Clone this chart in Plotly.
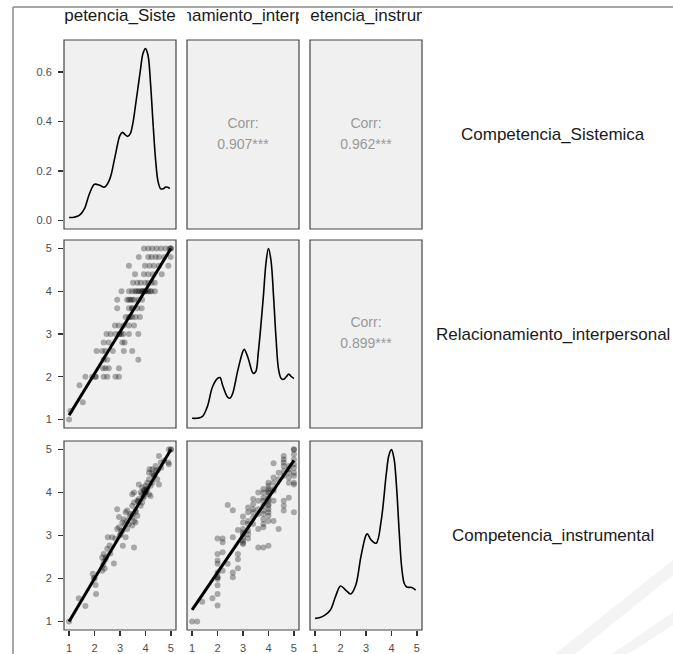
import plotly.graph_objects as go

W, H = 673, 654

var_names = ["Competencia_Sistemica", "Relacionamiento_interpersonal", "Competencia_instrumental"]
corr_values = ["0.907***", "0.962***", "0.899***"]
corr_title = "Corr:"
x_ticks = [1, 2, 3, 4, 5]
dens_ticks = [0.0, 0.2, 0.4, 0.6]
dens_ticktext = ["0.0", "0.2", "0.4", "0.6"]

# ---- diagonal densities ----
sis_dens_x = [1.0, 1.2, 1.4, 1.6, 1.8, 2.0, 2.2, 2.4, 2.6, 2.8, 3.0, 3.1, 3.2, 3.3, 3.4, 3.5, 3.6, 3.8, 3.9, 4.0,
              4.1, 4.2, 4.3, 4.4, 4.5, 4.6, 4.7, 4.8, 4.9, 4.95]
sis_dens_y = [0.012, 0.013, 0.02, 0.047, 0.108, 0.146, 0.142, 0.135, 0.168, 0.256, 0.344, 0.356, 0.347, 0.34, 0.35,
              0.39, 0.458, 0.607, 0.674, 0.695, 0.668, 0.553, 0.39, 0.243, 0.155, 0.128, 0.128, 0.135, 0.133, 0.128]

rel_dens_x = [1.0, 1.2, 1.4, 1.6, 1.8, 2.0, 2.1, 2.2, 2.4, 2.5, 2.6, 2.8, 3.0, 3.05, 3.2, 3.4, 3.5, 3.6, 3.8, 3.9,
              4.0, 4.1, 4.2, 4.3, 4.4, 4.5, 4.6, 4.7, 4.8, 4.9, 5.0]
rel_dens_y = [0.007, 0.007, 0.016, 0.075, 0.19, 0.24, 0.245, 0.2, 0.13, 0.125, 0.155, 0.29, 0.40, 0.41, 0.36, 0.27,
              0.28, 0.39, 0.72, 0.91, 1.0, 0.93, 0.72, 0.47, 0.29, 0.24, 0.235, 0.25, 0.265, 0.25, 0.24]

ins_dens_x = [1.0, 1.2, 1.4, 1.6, 1.8, 2.0, 2.2, 2.4, 2.6, 2.8, 3.0, 3.05, 3.2, 3.4, 3.6, 3.8, 3.9, 4.0, 4.1, 4.2,
              4.3, 4.4, 4.5, 4.6, 4.8, 4.95]
ins_dens_y = [0.014, 0.018, 0.030, 0.053, 0.115, 0.165, 0.146, 0.128, 0.170, 0.302, 0.402, 0.408, 0.379, 0.364,
              0.472, 0.690, 0.774, 0.800, 0.759, 0.627, 0.426, 0.254, 0.178, 0.160, 0.158, 0.146]

# ---- scatter: Competencia_Sistemica (x) vs Relacionamiento_interpersonal (y) ----
sr_x = [3.94, 4.11, 4.27, 4.44, 4.61, 4.79, 4.95, 5.0, 5.0,
        3.74, 4.11, 4.24, 4.40, 4.53, 4.73, 4.99,
        3.35, 3.98, 4.16, 4.33, 4.53, 4.90,
        3.59, 3.94, 4.11, 4.29, 4.64,
        3.51, 3.68, 3.81, 3.98, 4.11, 4.24, 4.37,
        3.06, 3.35, 3.48, 3.59, 3.72, 3.85, 3.98, 4.11, 4.24, 4.37, 3.65, 3.78, 3.92, 4.05, 4.18, 3.88, 4.0,
        2.89, 3.28, 3.41, 3.55, 3.72, 3.87, 3.35, 3.48,
        2.89, 3.35, 3.48, 3.68, 3.85, 3.48,
        3.22, 3.35, 3.48, 3.61, 3.78, 3.41,
        2.80, 2.96, 3.15, 3.35, 3.55,
        2.47, 2.63, 2.82, 2.98, 3.13, 3.35, 3.72, 2.98, 3.05,
        2.36, 2.56, 3.09, 3.18,
        2.08, 2.30, 2.43, 2.72, 3.15, 3.48,
        2.36, 2.50, 3.72,
        2.33, 2.43, 2.56, 2.96,
        1.64, 1.91, 2.04, 2.36, 2.50, 2.82, 2.96, 2.04,
        1.41, 1.54, 1.05, 1.0]
sr_y = [5.0] * 9 + [4.8] * 7 + [4.6] * 6 + [4.4] * 5 + [4.2] * 7 + [4.0] * 17 + [3.8] * 8 + [3.6] * 6 + \
       [3.4] * 6 + [3.2] * 5 + [3.0] * 9 + [2.8] * 4 + [2.6] * 6 + [2.4] * 3 + [2.2] * 4 + [2.0] * 8 + \
       [1.8, 1.4, 1.2, 1.0]

# ---- scatter: Competencia_Sistemica (x) vs Competencia_instrumental (y) ----
si_x = [1.00, 1.38, 1.64, 1.97, 2.04, 2.06, 1.93, 2.30, 2.33, 2.36, 2.30, 2.36, 2.43, 2.40, 2.76, 2.50, 2.52, 2.69,
        2.59, 2.82, 2.89, 2.89, 2.96, 3.02, 3.09, 3.11, 3.22, 3.28, 3.28, 3.35, 3.48, 3.55, 3.22, 3.41, 3.48, 3.55,
        3.61, 3.28, 3.48, 3.55, 3.61, 3.68, 3.68, 3.74, 3.81, 3.87, 3.74, 3.48, 3.55, 3.87, 3.94, 4.00, 4.07, 4.14,
        4.20, 3.94, 3.81, 4.00, 4.07, 4.20, 4.27, 4.14, 4.14, 4.27, 4.33, 4.40, 4.46, 4.53, 4.40, 4.60, 4.53, 4.73,
        4.92, 5.00, 4.90, 4.92, 4.27, 4.16, 3.87, 3.15, 3.09, 2.96, 2.0, 3.0, 4.0, 4.0, 5.0, 3.5, 3.62, 3.92, 4.05,
        2.45, 2.62, 3.05, 3.18, 3.38, 4.35, 4.48, 4.62, 3.72, 3.95]
si_y = [1.00, 1.54, 1.36, 2.01, 1.85, 1.64, 2.11, 2.18, 2.30, 2.39, 2.49, 2.57, 2.45, 2.23, 2.35, 2.69, 2.96, 2.96,
        2.77, 2.93, 3.61, 3.15, 3.19, 3.03, 3.11, 2.76, 2.96, 3.15, 3.34, 3.27, 3.23, 2.72, 3.54, 3.50, 3.42, 3.34,
        3.30, 3.58, 3.69, 3.77, 3.58, 3.46, 3.81, 3.85, 3.69, 3.77, 4.19, 3.96, 4.00, 3.96, 4.04, 4.00, 4.08, 3.96,
        3.92, 3.92, 4.00, 4.16, 4.23, 4.16, 4.23, 4.31, 4.46, 4.43, 4.39, 4.51, 4.31, 4.19, 4.62, 4.70, 4.85, 4.74,
        5.00, 5.00, 4.70, 4.66, 4.54, 4.54, 4.12, 3.38, 3.30, 3.43, 2.0, 3.0, 4.0, 4.02, 5.0, 3.5, 3.55, 3.88, 4.08,
        2.50, 2.58, 3.10, 3.25, 3.45, 4.40, 4.52, 4.58, 3.80, 4.06]

# ---- scatter: Relacionamiento_interpersonal (x) vs Competencia_instrumental (y) ----
ri_x = [1.0, 1.2, 1.4, 1.8] + [2.0] * 11 + [2.2] * 4 + [2.4] * 2 + [2.6] * 4 + [2.8] * 4 + [3.0] * 9 + \
       [3.2] * 7 + [3.4] * 6 + [3.6] * 6 + [3.8] * 11 + [4.0] * 15 + [4.2] * 7 + [4.4] * 3 + [4.6] * 9 + \
       [4.8] * 6 + [5.0] * 11
ri_y = [1.0, 1.0, 1.46, 1.54,
        2.93, 2.57, 2.42, 2.34, 2.14, 2.03, 2.03, 1.99, 1.84, 1.64, 1.37,
        2.93, 2.84, 2.61, 2.18,
        3.71, 2.34,
        3.59, 2.96, 2.14, 2.03,
        3.13, 2.57, 2.45, 2.24,
        3.44, 3.30, 3.15, 3.07, 3.03, 2.96, 2.88, 2.83, 2.80,
        3.65, 3.54, 3.34, 3.27, 3.11, 3.03, 2.93,
        3.85, 3.73, 3.61, 3.54, 3.42, 3.27,
        4.00, 3.81, 3.61, 3.50, 3.15, 2.72,
        4.08, 4.00, 3.88, 3.81, 3.69, 3.58, 3.50, 3.38, 3.27, 3.19, 2.72,
        4.23, 4.16, 4.08, 4.04, 4.00, 3.92, 3.85, 3.81, 3.73, 3.69, 3.61, 3.54, 3.46, 3.34, 2.76,
        4.68, 4.35, 4.23, 4.08, 4.04, 3.81, 3.34,
        4.46, 4.31, 3.15,
        4.85, 4.77, 4.70, 4.62, 4.50, 4.39, 3.81, 3.69, 3.58,
        4.62, 4.54, 4.46, 4.35, 4.23, 3.88,
        5.0, 5.0, 4.89, 4.77, 4.66, 4.58, 4.46, 4.39, 4.23, 4.19, 3.54]

# ---- fitted lines (endpoints) ----
fit_x = [1.0, 5.0]
sr_fit_y = [1.10, 5.00]
si_fit_y = [1.00, 5.00]
ri_fit_y = [1.27, 4.75]

# ---------------- layout geometry ----------------
col_px = [(64, 176), (187, 299), (310, 422)]
row_px = [(40, 229), (240, 428), (441, 630)]
strip_px = (3, 31)


def xd(px):
    return [px[0] / W, px[1] / W]


def yd(px):
    return [1 - px[1] / H, 1 - px[0] / H]


FONT = "Liberation Sans, Arial, sans-serif"
fig = go.Figure()


def ax_id(r, c):
    return r * 3 + c + 1


def xname(k):
    return "x" if k == 1 else f"x{k}"


def yname(k):
    return "y" if k == 1 else f"y{k}"


pt_marker = dict(size=6, color="rgba(0,0,0,0.3)", line=dict(width=0))

# densities
for (r, c), dx, dy in [((0, 0), sis_dens_x, sis_dens_y), ((1, 1), rel_dens_x, rel_dens_y),
                       ((2, 2), ins_dens_x, ins_dens_y)]:
    k = ax_id(r, c)
    fig.add_trace(go.Scatter(x=dx, y=dy, mode="lines", line=dict(color="black", width=1.6, shape="spline",
                                                                 smoothing=1.0),
                             xaxis=xname(k), yaxis=yname(k), hoverinfo="skip", showlegend=False))

# scatters
for (r, c), sx, sy, fy in [((1, 0), sr_x, sr_y, sr_fit_y), ((2, 0), si_x, si_y, si_fit_y),
                           ((2, 1), ri_x, ri_y, ri_fit_y)]:
    k = ax_id(r, c)
    fig.add_trace(go.Scatter(x=sx, y=sy, mode="markers", marker=pt_marker, xaxis=xname(k), yaxis=yname(k),
                             showlegend=False))
    fig.add_trace(go.Scatter(x=fit_x, y=fy, mode="lines", line=dict(color="black", width=3),
                             xaxis=xname(k), yaxis=yname(k), showlegend=False))

# correlation panels: "Corr:" above, value below, around the panel centre (y=3.0 in a 0.8-5.2 range)
PX_PER_UNIT = 189 / 4.4
off = 10.5 / PX_PER_UNIT
for (r, c), val in zip([(0, 1), (0, 2), (1, 2)], corr_values):
    k = ax_id(r, c)
    fig.add_trace(go.Scatter(x=[3.0, 3.0], y=[3.0 + off, 3.0 - off], mode="text", text=[corr_title, val],
                             textfont=dict(family=FONT, size=14, color="#999999"),
                             textposition="middle center", xaxis=xname(k), yaxis=yname(k),
                             showlegend=False, hoverinfo="skip"))

# strip labels (clipped to strip width)
for c in range(3):
    k = 10 + c
    fig.add_trace(go.Scatter(x=[0.5], y=[0.5], mode="text", text=[var_names[c]],
                             textfont=dict(family=FONT, size=17, color="#1a1a1a"),
                             textposition="middle center", cliponaxis=True,
                             xaxis=f"x{k}", yaxis=f"y{k}", showlegend=False, hoverinfo="skip"))

layout = dict(width=W, height=H, margin=dict(l=0, r=0, t=0, b=0),
              paper_bgcolor="white", plot_bgcolor="rgba(0,0,0,0)", showlegend=False,
              font=dict(family=FONT, color="#4d4d4d", size=11))

dens_max = {0: max(sis_dens_y), 1: max(rel_dens_y), 2: max(ins_dens_y)}
shapes = []
annotations = []
for r in range(3):
    for c in range(3):
        k = ax_id(r, c)
        xk = "xaxis" if k == 1 else f"xaxis{k}"
        yk = "yaxis" if k == 1 else f"yaxis{k}"
        xa = dict(domain=xd(col_px[c]), range=[0.8, 5.2], anchor=yname(k), showgrid=False, zeroline=False,
                  showticklabels=False, ticks="", fixedrange=True)
        if r == c:
            m = dens_max[r]
            yr = [-0.05 * m, 1.05 * m]
        else:
            yr = [0.8, 5.2]
        ya = dict(domain=yd(row_px[r]), range=yr, anchor=xname(k), showgrid=False, zeroline=False,
                  showticklabels=False, ticks="", fixedrange=True)
        if r == 2:
            xa.update(showticklabels=True, tickvals=x_ticks, ticks="outside", ticklen=5, tickwidth=1.2,
                      tickcolor="#333333", tickfont=dict(size=11, color="#4d4d4d"), ticklabelstandoff=3)
        if c == 0:
            if r == 0:
                ya.update(tickvals=dens_ticks, ticktext=dens_ticktext)
            else:
                ya.update(tickvals=x_ticks)
            ya.update(showticklabels=True, ticks="outside", ticklen=5, tickwidth=1.2, tickcolor="#333333",
                      tickfont=dict(size=11, color="#4d4d4d"), ticklabelstandoff=4)
        layout[xk] = xa
        layout[yk] = ya
        shapes.append(dict(type="rect", xref=f"{xname(k)} domain", yref=f"{yname(k)} domain",
                           x0=0, x1=1, y0=0, y1=1, fillcolor="#f0f0f0",
                           line=dict(color="#444444", width=1.2), layer="below"))

for c in range(3):
    k = 10 + c
    layout[f"xaxis{k}"] = dict(domain=xd(col_px[c]), range=[0, 1], visible=False, anchor=f"y{k}",
                               fixedrange=True)
    layout[f"yaxis{k}"] = dict(domain=yd(strip_px), range=[0, 1], visible=False, anchor=f"x{k}",
                               fixedrange=True)

# row labels on the right
for r in range(3):
    yc = 1 - (row_px[r][0] + row_px[r][1]) / 2 / H
    annotations.append(dict(xref="paper", yref="paper", x=553 / W, y=yc, text=var_names[r], showarrow=False,
                            xanchor="center", yanchor="middle",
                            font=dict(family=FONT, size=17, color="#1a1a1a")))

# page frame & faint watermark
shapes.append(dict(type="line", xref="paper", yref="paper", x0=13 / W, x1=1, y0=1 - 7 / H, y1=1 - 7 / H,
                   line=dict(color="#8a8a8a", width=1.5)))
shapes.append(dict(type="line", xref="paper", yref="paper", x0=13 / W, x1=13 / W, y0=0, y1=1 - 7 / H,
                   line=dict(color="#8a8a8a", width=1.5)))
shapes.append(dict(type="path", xref="paper", yref="paper",
                   path=f"M {555 / W},0 L {575 / W},0 L 1,{(654 - 575) / H} L 1,{(654 - 560) / H} Z",
                   fillcolor="#f4f4f4", line=dict(width=0), layer="below"))
shapes.append(dict(type="path", xref="paper", yref="paper",
                   path=f"M {612 / W},0 L {628 / W},0 L 1,{(654 - 625) / H} L 1,{(654 - 612) / H} Z",
                   fillcolor="#f4f4f4", line=dict(width=0), layer="below"))

layout["shapes"] = shapes
layout["annotations"] = annotations
fig.update_layout(**layout)
fig.write_html("out.html", config={"displayModeBar": False, "staticPlot": True},
               post_script="document.body.style.margin='0';document.body.style.overflow='hidden';")
